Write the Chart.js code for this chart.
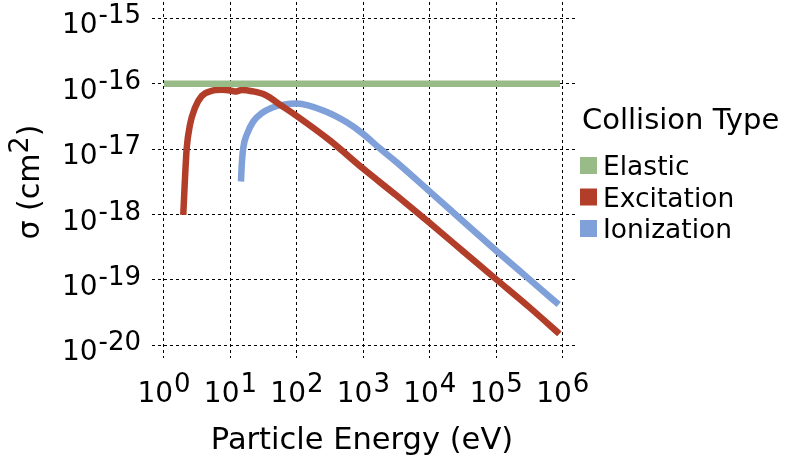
<!DOCTYPE html>
<html>
<head>
<meta charset="utf-8">
<script src="https://cdn.jsdelivr.net/npm/chart.js@4.4.1/dist/chart.umd.min.js"></script>
<style>
  html, body { margin: 0; padding: 0; background: #fff; }
  #wrap { width: 792px; height: 463px; }
</style>
</head>
<body>
<div id="wrap"><canvas id="myChart" width="792" height="463"></canvas></div>
<script>
/* data: energy in eV, cross section in cm^2 */
const elasticEnergy = [1, 9.1e5];
const elasticSigma = [1e-16, 1e-16];

const excitationEnergy = [1.95, 2.07, 2.2, 2.46, 2.93, 3.7, 5.2, 7.4, 9.9, 11.7, 14.8, 21, 33, 59, 100, 316, 1000, 3162, 1e4, 3.16e4, 1e5, 3.16e5, 8.9e5];
const excitationSigma = [9.9e-19, 3.6e-18, 1.05e-17, 2.35e-17, 4.3e-17, 6.5e-17, 7.8e-17, 8.1e-17, 7.9e-17, 7.6e-17, 8.0e-17, 7.7e-17, 6.8e-17, 4.6e-17, 3.2e-17, 1.35e-17, 5.0e-18, 1.95e-18, 7.4e-19, 2.75e-19, 1.02e-19, 3.8e-20, 1.5e-20];

const ionizationEnergy = [14.4, 14.8, 15.6, 17.6, 22.1, 29.6, 42, 63, 100, 282, 562, 1000, 1778, 3162, 1e4, 3.16e4, 1e5, 3.16e5, 8.7e5];
const ionizationSigma = [3.2e-18, 5.8e-18, 1.05e-17, 1.66e-17, 2.66e-17, 3.55e-17, 4.3e-17, 4.8e-17, 5.0e-17, 3.7e-17, 2.57e-17, 1.7e-17, 1.02e-17, 6.3e-18, 2.24e-18, 7.9e-19, 2.8e-19, 1.02e-19, 4.2e-20];

const seriesNames = ['Elastic', 'Excitation', 'Ionization'];
const seriesColors = ['#99bb88', '#b23e2a', '#7fa0d8'];

const xTickPowers = [0, 1, 2, 3, 4, 5, 6];
const yTickPowers = [-15, -16, -17, -18, -19, -20];

function toPoints(xs, ys) {
  return xs.map((x, i) => ({x: x, y: ys[i]}));
}

const FONT = "'DejaVu Sans', 'Liberation Sans', sans-serif";

// "10" plus an exponent in a near full-size superscript
function drawPower(ctx, exp, x, baseline, align) {
  const baseFont = '28px ' + FONT;
  const supFont = '26px ' + FONT;
  const sup = String(exp);
  ctx.font = baseFont;
  const wBase = ctx.measureText('10').width;
  ctx.font = supFont;
  const wSup = ctx.measureText(sup).width;
  const gap = 1;
  const total = wBase + gap + wSup;
  let left = x;
  if (align === 'center') left = x - total / 2;
  if (align === 'right') left = x - total;
  ctx.textAlign = 'left';
  ctx.textBaseline = 'alphabetic';
  ctx.font = baseFont;
  ctx.fillText('10', left, baseline);
  ctx.font = supFont;
  ctx.fillText(sup, left + wBase + gap, baseline - 10);
}

const labelsPlugin = {
  id: 'labels',
  afterDraw(chart) {
    const ctx = chart.ctx;
    const xs = chart.scales.x;
    const ys = chart.scales.y;
    ctx.save();
    ctx.fillStyle = '#000';

    xTickPowers.forEach(p => {
      drawPower(ctx, p, xs.getPixelForValue(Math.pow(10, p)), 402, 'center');
    });
    yTickPowers.forEach(p => {
      drawPower(ctx, p, 141, ys.getPixelForValue(Math.pow(10, p)) + 15, 'right');
    });

    // x title
    ctx.font = '30.5px ' + FONT;
    ctx.textAlign = 'center';
    ctx.textBaseline = 'alphabetic';
    ctx.fillText('Particle Energy (eV)', 362, 449);

    // y title, rotated, with superscript 2
    ctx.save();
    ctx.translate(39, 182);
    ctx.rotate(-Math.PI / 2);
    const t1 = 'σ (cm', t2 = '2', t3 = ')';
    ctx.font = '30px ' + FONT;
    const w1 = ctx.measureText(t1).width;
    const w3 = ctx.measureText(t3).width;
    ctx.font = '27px ' + FONT;
    const w2 = ctx.measureText(t2).width;
    let lx = -(w1 + w2 + w3) / 2;
    ctx.textAlign = 'left';
    ctx.font = '30px ' + FONT;
    ctx.fillText(t1, lx, 0);
    ctx.font = '27px ' + FONT;
    ctx.fillText(t2, lx + w1, -11);
    ctx.font = '30px ' + FONT;
    ctx.fillText(t3, lx + w1 + w2, 0);
    ctx.restore();

    // legend
    ctx.textAlign = 'left';
    ctx.font = '29px ' + FONT;
    ctx.fillText('Collision Type', 582, 129);
    ctx.font = '26.5px ' + FONT;
    seriesNames.forEach((name, i) => {
      const cy = 165.5 + i * 31.5;
      ctx.fillStyle = seriesColors[i];
      ctx.fillRect(580, cy - 8.5, 17, 17);
      ctx.fillStyle = '#000';
      ctx.fillText(name, 603, cy + 9.5);
    });
    ctx.restore();
  }
};

function decadeTicks(powers) {
  return function(scale) {
    scale.ticks = powers.map(p => ({value: Math.pow(10, p)}));
  };
}

const gridStyle = {color: '#000', lineWidth: 1, drawTicks: false};
const borderStyle = {display: false, dash: [3, 3]};

let ctx = document.getElementById('myChart').getContext('2d');
let chart = new Chart(ctx, {
  type: 'scatter',
  data: {
    datasets: [
      {label: seriesNames[0], data: toPoints(elasticEnergy, elasticSigma)},
      {label: seriesNames[1], data: toPoints(excitationEnergy, excitationSigma)},
      {label: seriesNames[2], data: toPoints(ionizationEnergy, ionizationSigma)}
    ].map((d, i) => Object.assign(d, {
      showLine: true,
      borderColor: seriesColors[i],
      backgroundColor: seriesColors[i],
      borderWidth: 6.5,
      borderCapStyle: 'butt',
      pointRadius: 0,
      pointHoverRadius: 0,
      cubicInterpolationMode: 'monotone',
      fill: false
    }))
  },
  options: {
    responsive: false,
    animation: false,
    layout: {padding: {left: 152, right: 217, top: 2, bottom: 105}},
    plugins: {legend: {display: false}, tooltip: {enabled: false}},
    scales: {
      x: {
        type: 'logarithmic',
        min: 0.66,
        max: 1.53e6,
        afterBuildTicks: decadeTicks(xTickPowers),
        ticks: {display: false},
        grid: gridStyle,
        border: borderStyle
      },
      y: {
        type: 'logarithmic',
        min: 6.4e-21,
        max: 1.78e-15,
        afterBuildTicks: decadeTicks(yTickPowers),
        ticks: {display: false},
        grid: gridStyle,
        border: borderStyle
      }
    }
  },
  plugins: [labelsPlugin]
});
</script>
</body>
</html>
